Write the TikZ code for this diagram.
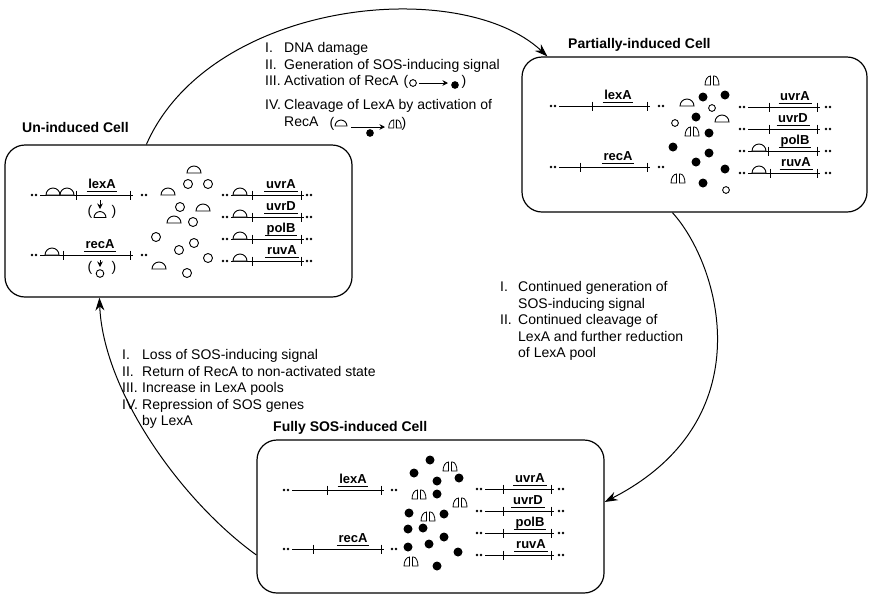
\documentclass[tikz,border=0pt]{standalone}
\usepackage{fontspec}
\setmainfont{Liberation Sans}
\usetikzlibrary{arrows.meta}

\tikzset{
  cell/.style={draw,line width=1.2pt,rounded corners=20pt,inner sep=0pt},
  celltitle/.style={font=\fontsize{14}{16}\selectfont\bfseries,inner sep=0pt,anchor=west},
  genename/.style={font=\fontsize{13}{15}\selectfont\bfseries,inner xsep=1.5pt,inner ysep=0pt,anchor=base},
  steplist/.style={font=\fontsize{14}{16.5}\selectfont,inner sep=0pt,anchor=base west},
  paren/.style={font=\fontsize{14}{16}\selectfont,inner sep=0pt},
  dna/.style={line width=0.9pt},
  cyclearrow/.style={line width=1pt,-{Stealth[length=13pt,width=9pt]}},
  smallarrow/.style={line width=0.9pt,-{Stealth[length=5.5pt,width=5.5pt]}},
  % LexA dimer, cleaved LexA, RecA (inactive / active)
  lexdimer/.pic={\draw[line width=0.9pt,fill=white] (-7pt,0pt) arc[start angle=180,end angle=0,radius=7pt] -- cycle;},
  lexcut/.pic={
    \draw[line width=0.8pt,fill=white] (-1.5pt,0pt) -- (-7pt,0pt) arc[start angle=180,end angle=90,x radius=5.5pt,y radius=9pt] -- cycle;
    \draw[line width=0.8pt,fill=white] (1.5pt,0pt) -- (1.5pt,9pt) -- (2.5pt,9pt) arc[start angle=90,end angle=0,x radius=4.5pt,y radius=9pt] -- cycle;},
  recinactive/.pic={\draw[line width=0.9pt,fill=white] (0,0) circle (4.5pt);},
  recactive/.pic={\fill (0,0) circle (4.5pt);},
  ends/.pic={\fill (0,0) circle (1.3pt) (4pt,0pt) circle (1.3pt);}
}

% cell, gene, y, left dots, tick, tick, right dots, label x
\newcommand{\geneline}[8]{%
  \path (#4,#3) pic{ends} (#7,#3) pic{ends};
  \draw[dna] (#4+8,#3) -- (#6+3,#3);
  \draw[dna] (#5,#3-4.5) -- (#5,#3+4.5) (#6,#3-4.5) -- (#6,#3+4.5);
  \node[genename] (#1#2) at (#8,#3-6.5) {#2};
  \coordinate (#1#2bar) at (0,#3-4);
  \draw[line width=1pt] (#1#2.west |- #1#2bar) -- (#1#2.east |- #1#2bar);
}

\begin{document}
\begin{tikzpicture}[x=1pt,y=-1pt]
\useasboundingbox (0,0) rectangle (870,595);

% the three cells
\node[cell,minimum width=347pt,minimum height=152pt] (uninduced) at (178.5,221) {};
\node[cell,minimum width=345pt,minimum height=155pt] (partially) at (694.5,134.5) {};
\node[cell,minimum width=347pt,minimum height=153pt] (fully) at (430.5,516.5) {};

\node[celltitle] (uninducedtitle) at (22,127) {Un-induced Cell};
\node[celltitle] (partiallytitle) at (568,45) {Partially-induced Cell};
\node[celltitle] (fullytitle) at (273,428) {Fully SOS-induced Cell};

%% un-induced
\geneline{u}{lexA}{195}{32}{76}{130}{142}{102}
\geneline{u}{recA}{255}{32}{63}{130}{142}{100}
\geneline{u}{uvrA}{195}{223}{252}{301}{307}{281}
\geneline{u}{uvrD}{217}{223}{252}{301}{307}{281}
\geneline{u}{polB}{239}{223}{252}{301}{307}{281}
\geneline{u}{ruvA}{261}{223}{252}{301}{307}{282}
\foreach \x/\y in {53/195,67/195,52/255,240/195,240/217,240/239,240/261}
  \path (\x,\y) pic{lexdimer};

\node[paren] (ulexl) at (90,212) {(};
\node[paren] (ulexr) at (114,212) {)};
\draw[smallarrow] (100,200) -- (100,209);
\path (100,217.5) pic[scale=0.85]{lexdimer};
\node[paren] (urecl) at (90,268) {(};
\node[paren] (urecr) at (114,268) {)};
\draw[smallarrow] (100,260) -- (100,267);
\path (100,273.5) pic[scale=0.85]{recinactive};

\foreach \x/\y in {194/173,168/195,203/211,174/223,159/269}
  \path (\x,\y) pic{lexdimer};
\foreach \x/\y in {188/184,208/184,180/207,193/222,156/237,194/243,179/250,208/258,187/273}
  \path (\x,\y) pic{recinactive};

%% partially induced
\geneline{p}{lexA}{106}{551}{592}{647}{659}{618}
\geneline{p}{recA}{167}{551}{580}{647}{659}{618}
\geneline{p}{uvrA}{107}{740}{769}{817}{826}{795}
\geneline{p}{uvrD}{129}{740}{769}{817}{826}{793}
\geneline{p}{polB}{151}{740}{768}{817}{826}{795}
\geneline{p}{ruvA}{173}{740}{770}{817}{826}{796}
\foreach \x/\y in {759/151,759/173,687/106,722/122}
  \path (\x,\y) pic{lexdimer};
\foreach \x/\y in {712/85,692/136,678/183}
  \path (\x,\y) pic{lexcut};
\foreach \x/\y in {675/123,712/108,726/190}
  \path (\x,\y) pic[scale=0.75]{recinactive};
\foreach \x/\y in {703/97,725/95,696/117,709/133,673/147,709/153,696/162,725/169,703/183}
  \path (\x,\y) pic{recactive};

%% fully induced
\geneline{f}{lexA}{490}{284}{327}{381}{392}{353}
\geneline{f}{recA}{549}{284}{313}{381}{392}{353}
\geneline{f}{uvrA}{489}{477}{503}{551}{559}{530}
\geneline{f}{uvrD}{511}{477}{503}{551}{559}{528}
\geneline{f}{polB}{533}{477}{503}{551}{559}{530}
\geneline{f}{ruvA}{555}{477}{503}{551}{559}{531}
\foreach \x/\y in {450/471,419/499,460/507,428/521,411/566}
  \path (\x,\y) pic{lexcut};
\foreach \x/\y in {430/460,414/473,437/481,459/478,437/494,409/513,444/514,408/529,
                   423/528,444/537,408/547,429/544,458/552,437/566}
  \path (\x,\y) pic{recactive};

%% steps round the cycle
\node[steplist] (induce) at (265,52.5) {\begin{tabular}[t]{@{}p{19pt}@{}l@{}}
I. & DNA damage\\
II. & Generation of SOS-inducing signal\\
III. & Activation of RecA\\[7.5pt]
IV. & Cleavage of LexA by activation of\\
 & RecA
\end{tabular}};
\node[paren] (actl) at (406,82) {(};
\path (413,83) pic[scale=0.75]{recinactive};
\draw[smallarrow] (419,83) -- (448,83);
\path (455,85) pic[scale=0.85]{recactive};
\node[paren] (actr) at (464,82) {)};
\node[paren] (cutl) at (332,124) {(};
\path (341,126) pic[scale=0.85]{lexdimer};
\draw[smallarrow] (351,127) -- (385,127);
\path (370,133) pic[scale=0.85]{recactive};
\path (395,128) pic[scale=0.9]{lexcut};
\node[paren] (cutr) at (404,124) {)};

\node[steplist] (escalate) at (500,291.5) {\begin{tabular}[t]{@{}p{18pt}@{}l@{}}
I. & Continued generation of\\
 & SOS-inducing signal\\
II. & Continued cleavage of\\
 & LexA and further reduction\\
 & of LexA pool
\end{tabular}};

\node[steplist] (recover) at (122,359.5) {\begin{tabular}[t]{@{}p{20pt}@{}l@{}}
I. & Loss of SOS-inducing signal\\
II. & Return of RecA to non-activated state\\
III. & Increase in LexA pools\\
IV. & Repression of SOS genes\\
 & by LexA
\end{tabular}};

% cycle arrows
\draw[cyclearrow] ([xshift=142pt]uninduced.north west) .. controls (210,0) and (460,-25) .. ([xshift=26pt]partially.north west);
\draw[cyclearrow] ([xshift=151pt]partially.south west) .. controls (720,265) and (765,420) .. ([yshift=14.5pt]fully.east);
\draw[cyclearrow] ([yshift=-38.5pt]fully.west) .. controls (180,500) and (103,390) .. ([xshift=95pt]uninduced.south west);

\end{tikzpicture}
\end{document}
